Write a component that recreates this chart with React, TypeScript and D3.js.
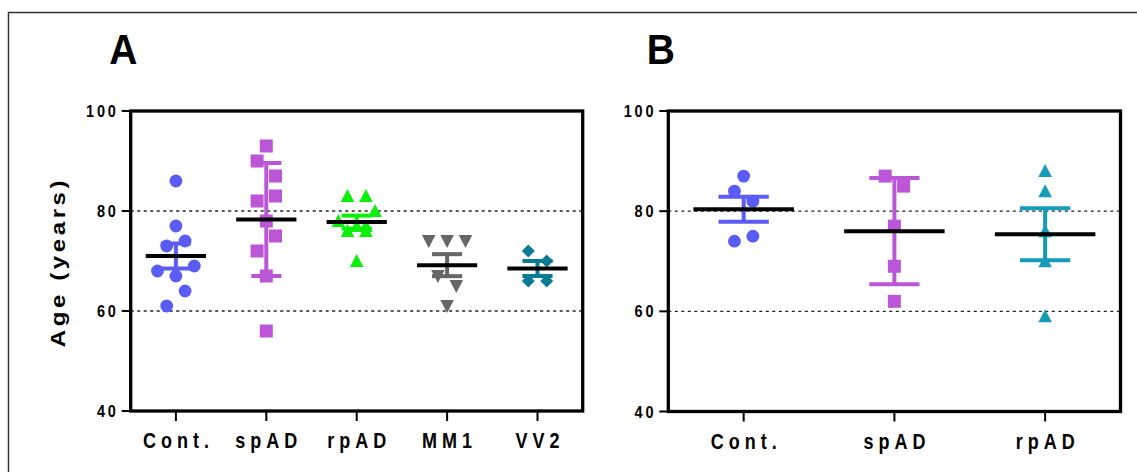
import React from "react";
import * as d3 from "d3";

const width = 1137;
const height = 472;

// panel A
const groupsA = ["Cont.", "spAD", "rpAD", "MM1", "VV2"];
const contA = [86, 77, 73, 74, 68, 69, 67, 64, 61];
const spadA = [93, 90, 87, 83, 82, 78, 75, 72, 67, 56];
const rpadA = [83, 83, 80, 78, 77, 77, 76, 76, 70];
const mm1A = [74, 74, 74, 67, 65, 61];
const vv2A = [72, 70, 66, 66];
// horizontal scatter of points, in marker widths
const jitterA = [
  [0, 0, -1, 1, -2, 2, 0, 1, -1],
  [0, -1, 1, 1, -1, 0, 1, -1, 0, 0],
  [-1, 1, 2, -2, 1, 0, -1, 1, 0],
  [-2, 0, 2, -1, 1, 0],
  [-1, 1, -1, 1],
];
const errA = [2.5, 11.3, 1.3, 2.2, 1.5];

// panel B
const groupsB = ["Cont.", "spAD", "rpAD"];
const contB = [87, 84, 82, 74, 75];
const spadB = [87, 85, 77, 69, 62];
const rpadB = [88, 84, 76, 70, 59];
const jitterB = [
  [0, -1, 1, -1, 1],
  [-1, 1, 0, 0, 0],
  [0, 0, 0, 0, 0],
];
const errB = [2.5, 10.6, 5.2];

const yTicks = [40, 60, 80, 100];
const gridLines = [60, 80];

const styleA = [
  { color: "#5b5bf6", shape: "circle" },
  { color: "#bb57d6", shape: "square" },
  { color: "#0cf00c", shape: "up" },
  { color: "#666666", shape: "down" },
  { color: "#0b7b94", shape: "diamond" },
];
const styleB = [
  { color: "#5b5bf6", shape: "circle" },
  { color: "#bb57d6", shape: "square" },
  { color: "#179cb7", shape: "up" },
];

const FONT = "'Liberation Sans', Arial, sans-serif";
const STRETCH = 1.2; // the source figure is a bit taller than wide

function Label({ x, y, size, spacing = 0, anchor = "start", stretch = STRETCH, children }) {
  return (
    <text
      transform={`translate(${x},${y}) scale(1,${stretch})`}
      textAnchor={anchor}
      fontFamily={FONT}
      fontWeight="bold"
      fontSize={size}
      letterSpacing={spacing}
    >
      {children}
    </text>
  );
}

function marker(shape, x, y, color, key) {
  if (shape === "circle") return <circle key={key} cx={x} cy={y} r={6.4} fill={color} />;
  if (shape === "square")
    return <rect key={key} x={x - 6.5} y={y - 6.5} width={13} height={13} fill={color} />;
  let d = "";
  if (shape === "up") d = `M${x},${y - 7}L${x + 6.8},${y + 6}L${x - 6.8},${y + 6}Z`;
  if (shape === "down") d = `M${x},${y + 7}L${x + 6.8},${y - 6}L${x - 6.8},${y - 6}Z`;
  if (shape === "diamond") d = `M${x},${y - 6.5}L${x + 6.5},${y}L${x},${y + 6.5}L${x - 6.5},${y}Z`;
  return <path key={key} d={d} fill={color} />;
}

function Panel({ left, right, top, bottom, groups, values, jitter, errs, styles, letter }) {
  const x = d3.scalePoint().domain(groups).range([left, right]).padding(0.5);
  const y = d3.scaleLinear().domain([40, 100]).range([bottom, top]);
  const step = x.step();
  const unit = 9.2;

  return (
    <g>
      <Label x={left - 21.5} y={64} size={39} stretch={1.1}>
        {letter}
      </Label>
      {gridLines.map((v) => (
        <line key={v} x1={left} x2={right} y1={y(v)} y2={y(v)} stroke="#222" strokeWidth={1.3} strokeDasharray="3,3.5" />
      ))}
      {groups.map((g, i) => {
        const cx = x(g);
        const vals = values[i];
        const mean = d3.mean(vals);
        const e = errs[i];
        const st = styles[i];
        return (
          <g key={g}>
            {vals.map((v, j) => marker(st.shape, cx + jitter[i][j] * unit, y(v), st.color, j))}
            <g stroke={st.color} strokeWidth={4}>
              <line x1={cx} x2={cx} y1={y(mean + e)} y2={y(mean - e)} />
              <line x1={cx - step / 6} x2={cx + step / 6} y1={y(mean + e)} y2={y(mean + e)} />
              <line x1={cx - step / 6} x2={cx + step / 6} y1={y(mean - e)} y2={y(mean - e)} />
            </g>
            <line x1={cx - step / 3} x2={cx + step / 3} y1={y(mean)} y2={y(mean)} stroke="#000" strokeWidth={4} />
            <line x1={cx} x2={cx} y1={bottom} y2={bottom + 10} stroke="#000" strokeWidth={2} />
            <Label x={cx + 2.5} y={bottom + 37} size={18} spacing={5} anchor="middle">
              {g}
            </Label>
          </g>
        );
      })}
      <rect x={left} y={top} width={right - left} height={bottom - top} fill="none" stroke="#000" strokeWidth={3.3} />
      {yTicks.map((t) => (
        <g key={t}>
          <line x1={left - 9} x2={left} y1={y(t)} y2={y(t)} stroke="#000" strokeWidth={2} />
          <Label x={left - 12} y={y(t) + 6} size={14.5} spacing={2.8} anchor="end">
            {t}
          </Label>
        </g>
      ))}
    </g>
  );
}

export default function App() {
  return (
    <svg width={width} height={height} style={{ position: "absolute", left: 0, top: 0, background: "#fff" }}>
      <path d={`M8.5,${height}V12.5H${width}`} fill="none" stroke="#333" strokeWidth={1.5} />
      <Panel
        left={130.7}
        right={582.7}
        top={111}
        bottom={411}
        groups={groupsA}
        values={[contA, spadA, rpadA, mm1A, vv2A]}
        jitter={jitterA}
        errs={errA}
        styles={styleA}
        letter="A"
      />
      <Panel
        left={668.3}
        right={1120.5}
        top={111}
        bottom={411.5}
        groups={groupsB}
        values={[contB, spadB, rpadB]}
        jitter={jitterB}
        errs={errB}
        styles={styleB}
        letter="B"
      />
      <text
        transform={`translate(65,262) rotate(-90) scale(${STRETCH},1)`}
        textAnchor="middle"
        fontFamily={FONT}
        fontWeight="bold"
        fontSize={20}
        letterSpacing={3}
      >
        Age (years)
      </text>
    </svg>
  );
}
